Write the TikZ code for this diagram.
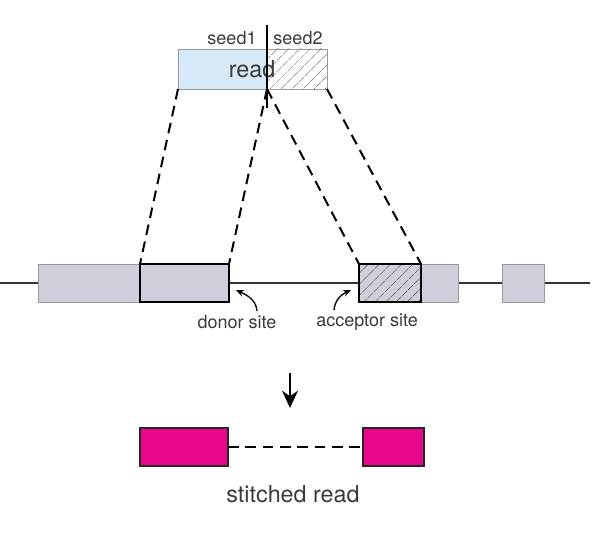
\documentclass[tikz,border=0pt]{standalone}
\usepackage{fontspec}
\setmainfont{TeX Gyre Heros}
\usetikzlibrary{fit,arrows.meta,patterns.meta}
\definecolor{readblue}{HTML}{D6E9F8}
\definecolor{exgrey}{HTML}{CFCEDB}
\definecolor{mag}{HTML}{E8068A}
\definecolor{txt}{HTML}{3A3A3A}
\definecolor{thin}{HTML}{9A9A9A}
\begin{document}
\begin{tikzpicture}[x=0.75pt,y=-0.75pt,
  box/.style={rectangle,inner sep=0pt,outer sep=0pt},
  exon/.style={box,fill=exgrey,draw=thin,line width=0.6pt},
  exonthick/.style={box,fill=exgrey,draw=black,line width=1.6pt},
  hatch/.style={postaction={pattern={Lines[angle=45,distance=6.5pt,line width=0.5pt]},pattern color=#1}},
  dashln/.style={line width=1.5pt,dash pattern=on 8pt off 5pt},
  lbl/.style={text=txt,font=\fontsize{13.5}{15}\selectfont,inner sep=0pt},
  biglbl/.style={text=txt,font=\fontsize{17.5}{19}\selectfont,inner sep=0pt},
  stitch/.style={box,fill=mag,draw=black!85,line width=1pt}]
\useasboundingbox (0,0) rectangle (608,560);
% gene line
\coordinate (gl) at (0,283);
\coordinate (gr) at (590,283);
\draw[line width=1.2pt,black!80] (gl) -- (gr);
% exons
\node[exon,fit={(38,264) (140,302)}] (e1a) {};
\node[exonthick,fit={(140,264) (229,302)}] (e1b) {};
\node[exonthick,hatch=black!70,fit={(359,264) (421,302)}] (e2a) {};
\node[exon,fit={(421,264) (458,302)}] (e2b) {};
\node[exon,fit={(502,264) (544,302)}] (e3) {};
\draw[exonthick,fill=none] (e1b.south west) rectangle (e1b.north east);
\draw[exonthick,fill=none] (e2a.south west) rectangle (e2a.north east);
% read
\node[box,fill=readblue,draw=thin,line width=0.6pt,fit={(178,49) (267,89)}] (r1) {};
\node[box,fill=white,draw=thin,line width=0.6pt,hatch=black!55,fit={(267,49) (327,89)}] (r2) {};
\node[biglbl] (readtxt) at (252,69) {read};
\node[lbl] (s1) at (232,38) {seed1};
\node[lbl] (s2) at (298,38) {seed2};
\coordinate (splt) at (267,25);
\coordinate (splb) at (267,108);
\draw[line width=1.5pt] (splt) -- (splb);
% dashed projection lines
\coordinate (mid) at (267,89);
\draw[dashln] (r1.south west) -- (e1b.north west);
\draw[dashln] (mid) -- (e1b.north east);
\draw[dashln] (mid) -- (e2a.north west);
\draw[dashln] (r2.south east) -- (e2a.north east);
% site labels
\node[lbl] (donor) at (237,322) {donor site};
\node[lbl] (acc) at (367,322) {acceptor site};
\coordinate (dstart) at (257,311);
\coordinate (dend) at (236,290);
\coordinate (astart) at (334,310);
\coordinate (aend) at (351,290);
\draw[line width=1pt,-{Stealth[length=6pt,width=5pt]}] (dstart) to[out=95,in=-25] (dend);
\draw[line width=1pt,-{Stealth[length=6pt,width=5pt]}] (astart) to[out=85,in=205] (aend);
% down arrow
\coordinate (da) at (290,373);
\coordinate (db) at (290,408);
\draw[line width=1.5pt,-{Stealth[length=13pt,width=12pt]}] (da) -- (db);
% stitched read
\node[stitch,fit={(140,428) (228,466)}] (m1) {};
\node[stitch,fit={(363,428) (424,466)}] (m2) {};
\draw[dashln] (m1.east) -- (m2.west);
\node[biglbl] (st) at (293,494) {stitched read};
\end{tikzpicture}
\end{document}
